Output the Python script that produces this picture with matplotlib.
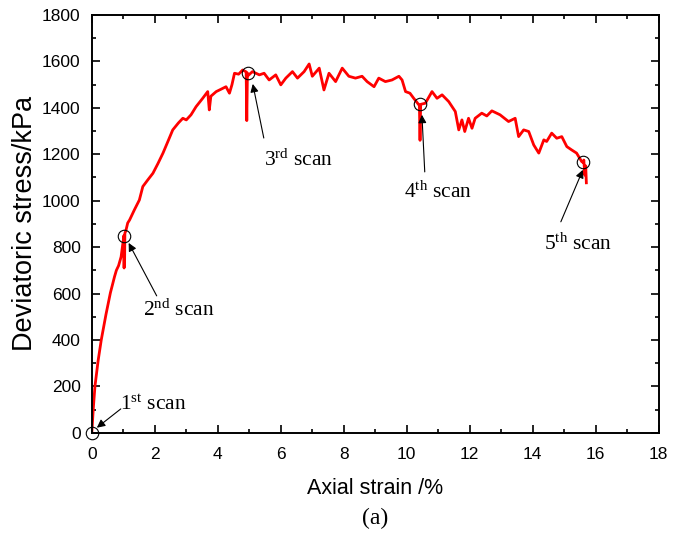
import numpy as np
import matplotlib.pyplot as plt
from matplotlib.ticker import MultipleLocator

# stress-strain curve (strain in %, stress in kPa)
strain = [0, 0.05, 0.1, 0.2, 0.3, 0.45, 0.59, 0.66, 0.72, 0.78, 0.85, 0.93, 1.0,
          1.02, 1.025, 1.035, 1.04, 1.05, 1.08, 1.14, 1.2, 1.35, 1.51, 1.62, 1.78,
          1.94, 2.1, 2.26, 2.4, 2.57, 2.75, 2.89, 3.0, 3.15, 3.31, 3.52, 3.68, 3.73,
          3.78, 3.95, 4.1, 4.26, 4.37, 4.45, 4.53, 4.66, 4.79, 4.9, 4.92, 4.94, 4.97,
          5.1, 5.32, 5.47, 5.63, 5.84, 6.0, 6.16, 6.37, 6.53, 6.74, 6.9, 7.0, 7.22,
          7.37, 7.53, 7.74, 7.95, 8.16, 8.37, 8.58, 8.74, 8.96, 9.11, 9.32, 9.53,
          9.75, 9.85, 9.96, 10.1, 10.22, 10.4, 10.42, 10.44, 10.59, 10.8, 10.96,
          11.12, 11.33, 11.54, 11.65, 11.75, 11.84, 11.96, 12.07, 12.17, 12.38, 12.54,
          12.7, 12.96, 13.23, 13.44, 13.55, 13.71, 13.87, 14.03, 14.19, 14.35,
          14.44, 14.6, 14.76, 14.92, 15.08, 15.23, 15.39, 15.55, 15.6, 15.62, 15.65,
          15.68, 15.7]
stress = [0, 110, 200, 310, 400, 510, 603, 640, 672, 700, 720, 758, 830,
          850, 710, 850, 720, 860, 870, 904, 917, 960, 1003, 1061, 1090,
          1118, 1160, 1205, 1250, 1305, 1335, 1355, 1348, 1370, 1405, 1441, 1470, 1391,
          1450, 1470, 1480, 1491, 1463, 1500, 1549, 1545, 1563, 1555, 1345, 1550, 1540,
          1556, 1542, 1549, 1520, 1542, 1499, 1528, 1556, 1528, 1556, 1589, 1536, 1571,
          1477, 1549, 1513, 1571, 1536, 1528, 1536, 1513, 1491, 1528, 1513, 1520,
          1536, 1520, 1470, 1463, 1441, 1410, 1260, 1415, 1420, 1470, 1441,
          1456, 1427, 1384, 1305, 1348, 1298, 1355, 1312, 1355, 1377, 1365,
          1387, 1370, 1341, 1355, 1276, 1305, 1298, 1240, 1205, 1262,
          1255, 1291, 1269, 1276, 1233, 1219, 1205, 1169, 1164, 1175, 1110,
          1150, 1077]

# scan points (circles)
scan_x = [0, 1.03, 4.95, 10.43, 15.6]
scan_y = [0, 848, 1550, 1415, 1165]
scan_labels = [r'$\mathregular{1^{st}}$ scan', r'$\mathregular{2^{nd}}$ scan',
               r'$\mathregular{3^{rd}}$ scan', r'$\mathregular{4^{th}}$ scan',
               r'$\mathregular{5^{th}}$ scan']
label_pos = [(1.94, 121), (2.76, 530), (6.57, 1176), (10.98, 1038), (15.43, 814)]
arrow_tail = [(0.92, 103), (2.06, 590), (5.46, 1270), (10.57, 1124), (14.89, 909)]
arrow_head = [(0.16, 22), (1.17, 818), (5.11, 1503), (10.48, 1370), (15.59, 1133)]

plt.rcParams['font.family'] = 'Liberation Sans'
plt.rcParams['mathtext.fontset'] = 'custom'
plt.rcParams['mathtext.rm'] = 'Liberation Serif'

fig = plt.figure(figsize=(6.75, 5.35), dpi=100)
ax = fig.add_axes([0.136, 0.191, 0.840, 0.781])

ax.plot(strain, stress, color='red', lw=2.0)
ax.plot(scan_x, scan_y, 'o', ms=9, mfc='none', mec='black', mew=0.8, clip_on=False)

for lab, pos in zip(scan_labels, label_pos):
    ax.text(pos[0], pos[1], lab, family='Liberation Serif', fontsize=15.5,
            ha='center', va='center')
for tail, head in zip(arrow_tail, arrow_head):
    ax.annotate('', xy=head, xytext=tail,
                arrowprops=dict(arrowstyle='-|>', color='black', lw=0.8,
                                mutation_scale=12, shrinkA=0, shrinkB=0))

ax.set_xlim(0, 18)
ax.set_ylim(0, 1800)
ax.xaxis.set_major_locator(MultipleLocator(2))
ax.xaxis.set_minor_locator(MultipleLocator(1))
ax.yaxis.set_major_locator(MultipleLocator(200))
ax.yaxis.set_minor_locator(MultipleLocator(100))
ax.tick_params(which='both', direction='in', top=True, right=True, labelsize=12.5, width=1.2)
ax.tick_params(which='major', length=6)
ax.tick_params(which='minor', length=3)
ax.tick_params(axis='x', pad=10)
ax.tick_params(axis='y', pad=8)
for s in ax.spines.values():
    s.set_linewidth(1.4)

ax.set_xlabel('Axial strain /%', fontsize=15.5, labelpad=12)
ax.set_ylabel('Deviatoric stress/kPa', fontsize=19.5, labelpad=3)
fig.text(0.556, 0.02, '(a)', family='Liberation Serif', fontsize=17, ha='center')

fig.savefig('out.png', dpi=100)
